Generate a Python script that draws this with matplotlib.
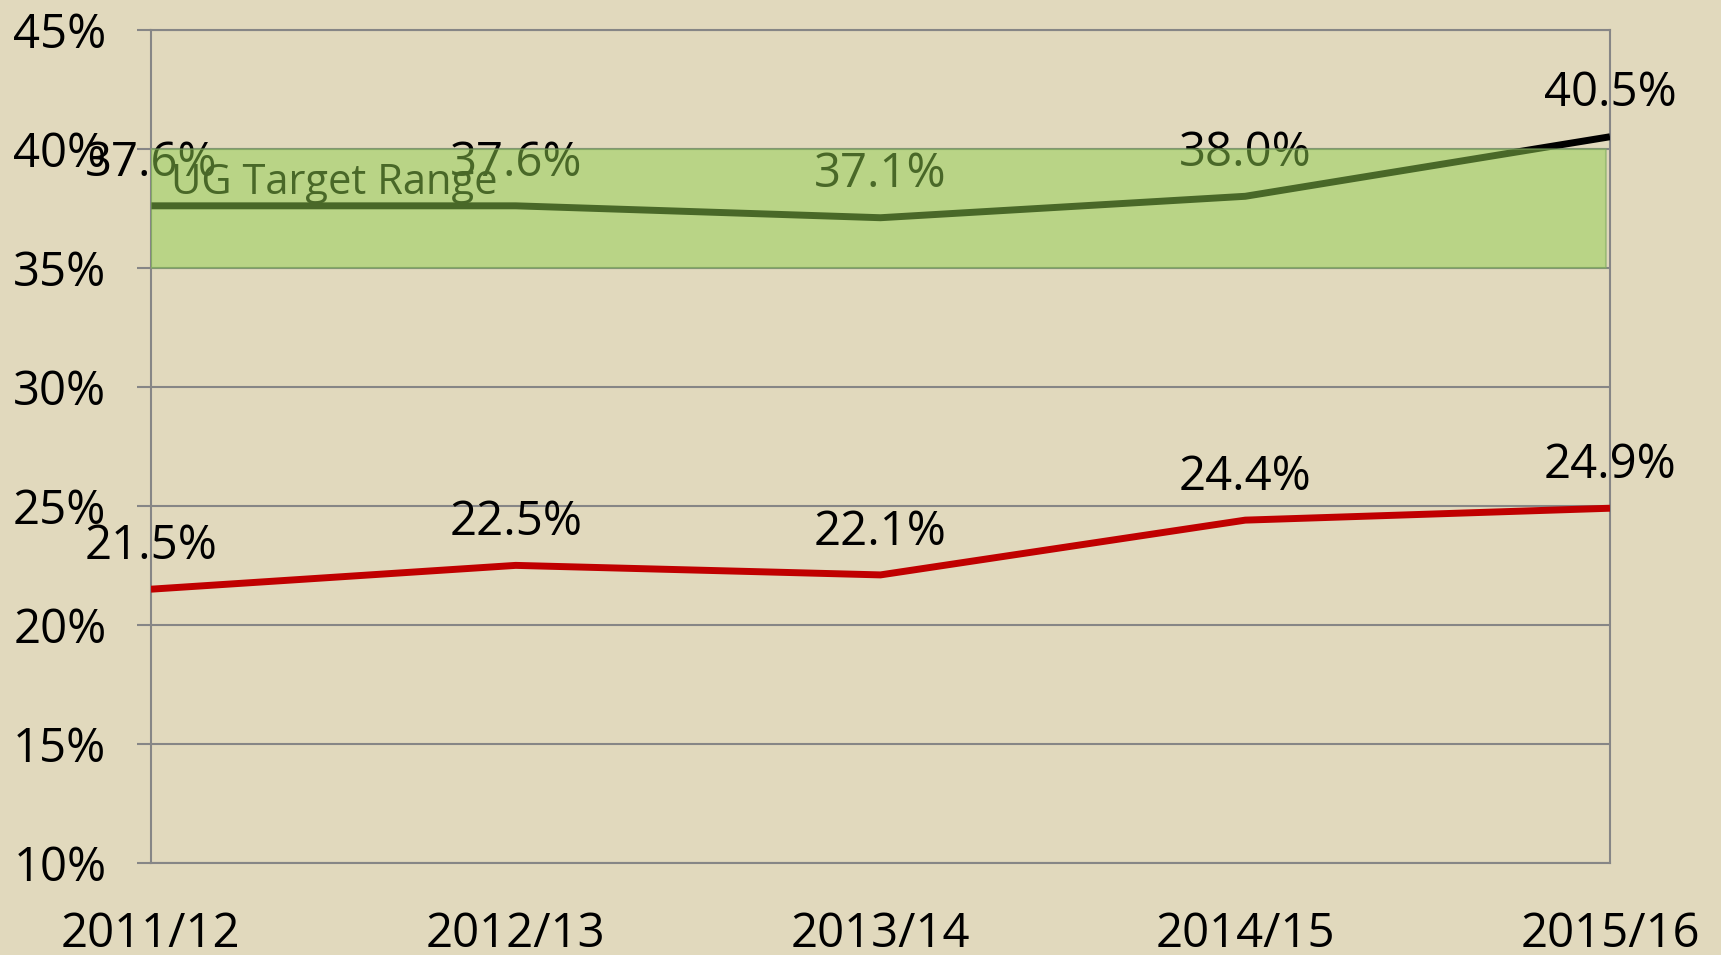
import matplotlib
matplotlib.use("Agg")
import matplotlib.pyplot as plt
from matplotlib.ticker import FuncFormatter

# values
years = ["2011/12", "2012/13", "2013/14", "2014/15", "2015/16"]
black_vals = [37.6, 37.6, 37.1, 38.0, 40.5]
red_vals = [21.5, 22.5, 22.1, 24.4, 24.9]
target_low = 35
target_high = 40
target_label = "UG Target Range"
y_ticks = [10, 15, 20, 25, 30, 35, 40, 45]

BG = "#E1D9BD"
GRID = "#868686"

plt.rcParams["font.family"] = ["Open Sans", "DejaVu Sans"]

fig = plt.figure(figsize=(17.21, 9.55), dpi=100, facecolor=BG)
ax = fig.add_axes([0.0877, 0.0963, 0.9355 - 0.0877, 0.969 - 0.0963])
ax.set_facecolor(BG)

x = list(range(len(years)))
ax.plot(x, black_vals, color="black", lw=5, solid_capstyle="butt", zorder=3)
ax.plot(x, red_vals, color="#C00000", lw=5, solid_capstyle="butt", zorder=3)

# data labels above each point
for xi, v in zip(x, black_vals):
    ax.annotate(f"{v:.1f}%", (xi, v), xytext=(0, 31), textcoords="offset points",
                ha="center", va="center", fontsize=34, color="black", zorder=4)
for xi, v in zip(x, red_vals):
    ax.annotate(f"{v:.1f}%", (xi, v), xytext=(0, 31), textcoords="offset points",
                ha="center", va="center", fontsize=34, color="black", zorder=4)

ax.text(0.055, 38.55, target_label, fontsize=30, color="black",
        ha="left", va="center", zorder=4)

# semi-transparent target band drawn on top of lines and labels
ax.axhspan(target_low, target_high, xmin=0, xmax=0.997, facecolor="#92D050",
           alpha=0.5, edgecolor="#7FA860", lw=1.5, zorder=5)

ax.set_xlim(0, 4)
ax.set_ylim(10, 45)
ax.set_yticks(y_ticks)
ax.yaxis.set_major_formatter(FuncFormatter(lambda v, _: f"{v:.0f}%"))
ax.set_xticks(x)
ax.set_xticklabels(years)

ax.grid(axis="y", color=GRID, lw=1.5, zorder=1)
ax.set_axisbelow(True)
for side in ["left", "bottom", "right", "top"]:
    ax.spines[side].set_color(GRID)
    ax.spines[side].set_linewidth(1.5)

ax.tick_params(axis="y", length=10, width=1.5, color=GRID, labelsize=34, pad=22)
ax.tick_params(axis="x", length=0, labelsize=34, pad=34)

fig.savefig("out.png", dpi=100, facecolor=BG)
